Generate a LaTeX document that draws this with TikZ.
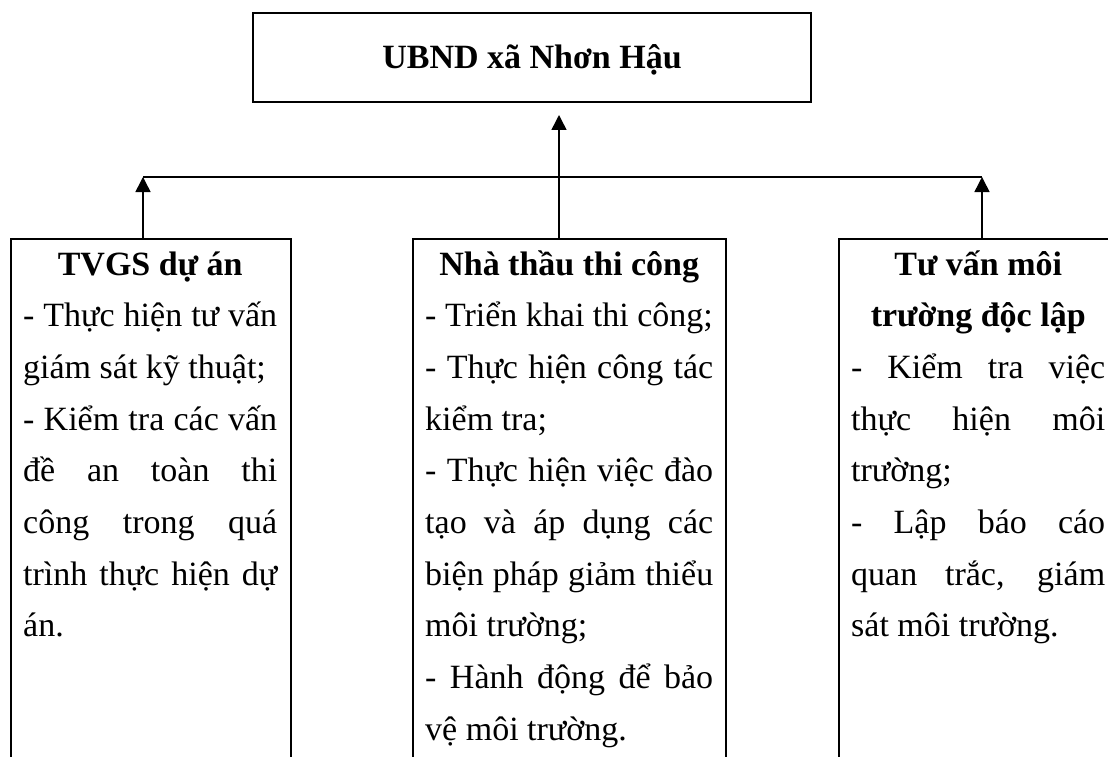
\documentclass[tikz,border=0pt]{standalone}
\usepackage{fontspec}
\setmainfont{Liberation Serif}
\usetikzlibrary{arrows.meta}
\newcommand{\jline}[1]{\hbox to \hsize{\spaceskip=0.25em plus 1fil minus 0.1em\relax #1}}
\newcommand{\lline}[1]{\hbox to \hsize{#1\hfil}}
\newcommand{\tline}[1]{\hbox to \hsize{\hfil\bfseries #1\hfil}}
\begin{document}
\begin{tikzpicture}[x=1pt,y=-1pt,
  box/.style={draw, line width=2pt, inner sep=0pt},
  vconn/.style={line width=1.5pt,-{Triangle[length=15pt,width=15pt]}},
  hconn/.style={line width=2pt},
  txt/.style={inner sep=0pt, anchor=base west, font=\fontsize{34pt}{51.7pt}\selectfont}]
\useasboundingbox (0,0) rectangle (1108,757);
\clip (0,0) rectangle (1108,757);
\node[box, minimum width=558pt, minimum height=89pt, text height=22pt, text depth=0pt,
  font=\fontsize{34pt}{51.7pt}\selectfont\bfseries] (ubnd) at (532,57.5) {UBND xã Nhơn Hậu};
\node[box, minimum width=280pt, minimum height=600pt, anchor=north west] (boxL) at (10,238) {};
\node[box, minimum width=313pt, minimum height=600pt, anchor=north west] (boxM) at (412,238) {};
\node[box, minimum width=280pt, minimum height=600pt, anchor=north west] (boxR) at (838,238) {};
\node[txt] (tL) at (23,275) {\parbox[t]{254pt}{%
  \tline{TVGS dự án}
  \jline{- Thực hiện tư vấn}
  \lline{giám sát kỹ thuật;}
  \jline{- Kiểm tra các vấn}
  \jline{đề an toàn thi}
  \jline{công trong quá}
  \jline{trình thực hiện dự}
  \lline{án.}}};
\node[txt] (tM) at (425,275) {\parbox[t]{288pt}{%
  \tline{Nhà thầu thi công}
  \lline{- Triển khai thi công;}
  \jline{- Thực hiện công tác}
  \lline{kiểm tra;}
  \jline{- Thực hiện việc đào}
  \jline{tạo và áp dụng các}
  \jline{biện pháp giảm thiểu}
  \lline{môi trường;}
  \jline{- Hành động để bảo}
  \lline{vệ môi trường.}}};
\node[txt] (tR) at (851,275) {\parbox[t]{254pt}{%
  \tline{Tư vấn môi}
  \tline{trường độc lập}
  \jline{- Kiểm tra việc}
  \jline{thực hiện môi}
  \lline{trường;}
  \jline{- Lập báo cáo}
  \jline{quan trắc, giám}
  \lline{sát môi trường.}}};
\coordinate (busL) at (143,177);
\coordinate (busR) at (982,177);
\coordinate (topin) at (559,115);
\draw[hconn] (busL) -- (busR);
\draw[vconn] (boxL.north -| busL) -- (busL);
\draw[vconn] (boxR.north -| busR) -- (busR);
\draw[vconn] (boxM.north -| topin) -- (topin);
\end{tikzpicture}
\end{document}
